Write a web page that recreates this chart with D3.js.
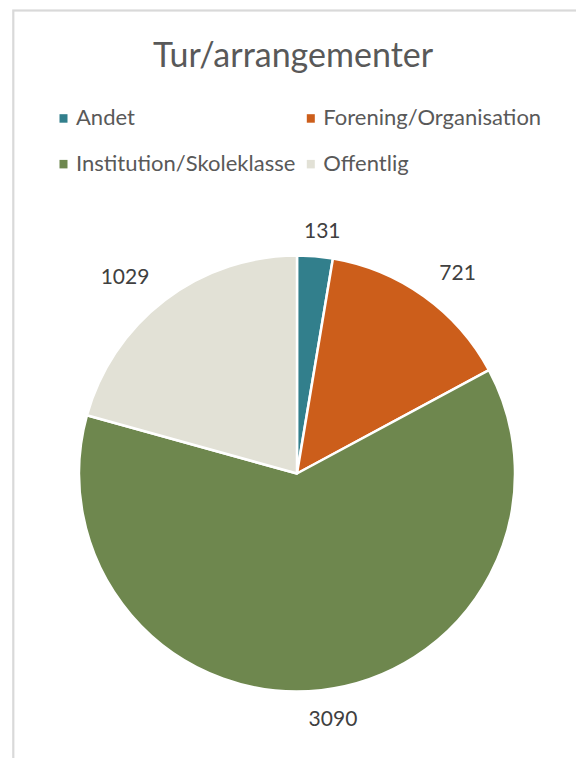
<!DOCTYPE html>
<html>
<head>
<meta charset="utf-8">
<script src="https://cdn.jsdelivr.net/npm/d3@7"></script>
<style>
  html, body { margin: 0; padding: 0; background: #fff; }
  svg { display: block; }
</style>
</head>
<body>
<script>
const title = "Tur/arrangementer";
const categories = ["Andet", "Forening/Organisation", "Institution/Skoleklasse", "Offentlig"];
const values = [131, 721, 3090, 1029];
const colors = ["#327F8C", "#CC5E1B", "#6E874E", "#E2E1D6"];

const W = 576, H = 758;
const font = "Lato, 'Open Sans', sans-serif";
const svg = d3.select("body").append("svg").attr("width", W).attr("height", H);

// chart frame
svg.append("rect").attr("x", 13.3).attr("y", 10.5).attr("width", 700).attr("height", 900)
  .attr("fill", "#fff").attr("stroke", "#D9D9D9").attr("stroke-width", 2.2);

// title
svg.append("text").attr("x", 293).attr("y", 66.7).attr("text-anchor", "middle")
  .attr("font-family", font).attr("font-size", 34).attr("fill", "#595959").text(title);

// legend (2 columns)
const colX = [59.5, 306.8], rowY = [125, 170.7];
const leg = svg.append("g");
categories.forEach((c, i) => {
  const g = leg.append("g").attr("transform", `translate(${colX[i % 2]},${rowY[Math.floor(i / 2)]})`);
  g.append("rect").attr("x", 0).attr("y", -10.8).attr("width", 8).attr("height", 8.5).attr("fill", colors[i]);
  g.append("text").attr("x", 16.5).attr("y", 0).attr("font-family", font).attr("font-size", 22)
    .attr("fill", "#595959").text(c);
});

// pie
const cx = 297, cy = 473.5, r = 218;
const pie = d3.pie().sort(null).value(d => d)(values);
const arc = d3.arc().innerRadius(0).outerRadius(r);
const g = svg.append("g").attr("transform", `translate(${cx},${cy})`);
g.selectAll("path").data(pie).join("path")
  .attr("d", arc).attr("fill", (d, i) => colors[i])
  .attr("stroke", "#fff").attr("stroke-width", 2.5).attr("stroke-linejoin", "round");

// data labels (outside end, box pushed off the circle)
const labels = g.selectAll("text.lbl").data(pie).join("text").attr("class", "lbl")
  .attr("font-family", font).attr("font-size", 21).attr("fill", "#404040")
  .attr("text-anchor", "middle").attr("dominant-baseline", "central")
  .text(d => d.value);
labels.each(function(d) {
  const a = (d.startAngle + d.endAngle) / 2;
  const s = Math.sin(a), c = Math.cos(a);
  const bw = this.getComputedTextLength() + 18, bh = 32;
  const R0 = r + 11;
  const x = s * R0 + Math.sign(s) * Math.min(1, 2.8 * Math.abs(s)) * bw / 2;
  const y = -c * R0 - Math.sign(c) * Math.min(1, 2.8 * Math.abs(c)) * bh / 2;
  d3.select(this).attr("x", x).attr("y", y);
});
</script>
</body>
</html>
